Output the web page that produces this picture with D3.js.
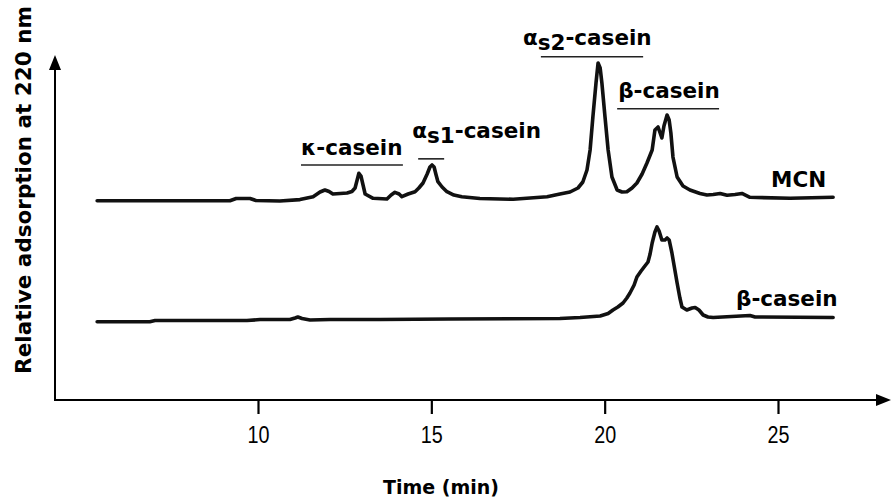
<!DOCTYPE html>
<html>
<head>
<meta charset="utf-8">
<script src="https://cdn.jsdelivr.net/npm/d3@7"></script>
<style>
  body { margin: 0; background: #fff; }
  svg { display: block; }
</style>
</head>
<body>
<div id="chart"></div>
<script>
// retention time (min) and relative absorbance
const mcnTime = [5.36, 6.88, 9.19, 9.37, 9.77, 9.94, 10.63, 11.21, 11.59, 11.79, 11.93, 12.05, 12.16, 12.37,
  12.57, 12.71, 12.80, 12.86, 12.91, 12.97, 13.03, 13.09, 13.32, 13.72, 13.84, 13.95, 14.07, 14.15, 14.33,
  14.53, 14.64, 14.76, 14.88, 14.96, 15.02, 15.08, 15.13, 15.19, 15.31, 15.45, 15.65, 15.88, 16.40, 17.36,
  17.85, 18.34, 18.71, 19.00, 19.23, 19.37, 19.49, 19.58, 19.66, 19.75, 19.81, 19.87, 19.92, 20.01, 20.10,
  20.21, 20.36, 20.50, 20.64, 20.79, 20.93, 21.08, 21.22, 21.37, 21.45, 21.54, 21.65, 21.71, 21.80, 21.86,
  21.91, 21.97, 22.09, 22.26, 22.46, 22.75, 22.95, 23.13, 23.33, 23.53, 23.76, 23.96, 24.19, 25.35, 26.59];
const mcnSignal = [57.77, 57.77, 57.77, 58.41, 58.41, 57.83, 57.68, 58.09, 58.93, 60.29, 60.87, 60.44, 59.71, 59.86,
  60.00, 60.44, 61.45, 63.77, 65.71, 64.93, 62.32, 59.71, 58.46, 58.26, 59.42, 60.20, 59.71, 58.93, 59.71,
  60.38, 61.45, 62.90, 65.51, 67.54, 68.12, 67.54, 65.51, 63.28, 61.74, 60.38, 59.42, 58.93, 58.41, 58.18,
  58.55, 58.93, 59.71, 60.29, 61.45, 63.19, 66.67, 72.46, 82.03, 91.88, 97.68, 96.23, 91.88, 82.03, 72.46,
  64.64, 60.87, 60.29, 60.38, 61.45, 62.90, 65.51, 68.70, 72.46, 78.26, 79.13, 75.94, 79.42, 82.61, 81.16,
  77.39, 70.43, 64.64, 62.03, 60.87, 59.86, 59.42, 59.57, 59.86, 59.33, 59.57, 59.86, 58.75, 58.46, 58.75];

const betaTime = [5.36, 6.88, 7.03, 9.68, 10.06, 10.92, 11.07, 11.15, 11.27, 11.50, 12.08, 13.52, 15.54, 18.71,
  19.29, 19.87, 20.10, 20.24, 20.38, 20.53, 20.64, 20.73, 20.85, 20.93, 21.05, 21.16, 21.25, 21.31, 21.37,
  21.45, 21.51, 21.57, 21.65, 21.74, 21.80, 21.86, 21.94, 22.00, 22.09, 22.17, 22.23, 22.37, 22.52, 22.61,
  22.72, 22.84, 22.98, 23.13, 24.19, 24.34, 26.59];
const betaSignal = [22.70, 22.70, 23.04, 23.04, 23.33, 23.33, 23.77, 24.06, 23.62, 23.19, 23.33, 23.33, 23.48, 23.62,
  23.91, 24.35, 25.07, 26.09, 26.96, 28.12, 29.57, 31.01, 33.33, 35.65, 37.39, 38.84, 40.00, 42.32, 45.51,
  48.70, 50.15, 48.99, 46.38, 46.38, 46.96, 46.38, 42.61, 39.13, 33.91, 29.57, 26.96, 26.09, 26.67, 26.81,
  26.09, 24.64, 24.06, 23.91, 24.49, 24.06, 23.91];

const xTicks = [10, 15, 20, 25];

// peak groups marked with a bar above the MCN trace
const groupNames = ["κ-casein", "αs1-casein", "αs2-casein", "β-casein"];
const groupStart = [11.24, 14.62, 18.16, 20.36];
const groupEnd = [14.18, 15.37, 21.11, 23.30];
const groupLevel = [68.1, 69.9, 99.5, 84.4];

const width = 891, height = 499;

const svg = d3.select("#chart")
  .append("svg")
  .attr("width", width)
  .attr("height", height);

const x = d3.scaleLinear().domain([10, 25]).range([258, 778]);
const y = d3.scaleLinear().domain([0, 100]).range([400, 55]);

const x0 = 55, y0 = 400;

// axes with arrow heads
svg.append("line")
  .attr("x1", x0).attr("y1", y0)
  .attr("x2", width - 10).attr("y2", y0)
  .attr("stroke", "#000").attr("stroke-width", 2);
svg.append("path")
  .attr("d", `M${width},${y0} L${width - 15},${y0 - 6} L${width - 15},${y0 + 6} Z`)
  .attr("fill", "#000");

svg.append("line")
  .attr("x1", x0).attr("y1", y0 + 1)
  .attr("x2", x0).attr("y2", y(100) + 10)
  .attr("stroke", "#000").attr("stroke-width", 2);
svg.append("path")
  .attr("d", `M${x0},${y(100)} L${x0 - 6},${y(100) + 15} L${x0 + 6},${y(100) + 15} Z`)
  .attr("fill", "#000");

const xAxis = svg.append("g")
  .attr("transform", `translate(0, ${y0})`)
  .call(d3.axisBottom(x).tickValues(xTicks).tickSize(14).tickPadding(13));
xAxis.select(".domain").remove();
xAxis.selectAll(".tick line").attr("stroke", "#000").attr("stroke-width", 2.2);
xAxis.selectAll(".tick text")
  .attr("fill", "#000")
  .attr("textLength", 22)
  .attr("lengthAdjust", "spacingAndGlyphs")
  .style("font-family", "'Liberation Sans', Arial, sans-serif")
  .style("font-size", "23px");

svg.append("text")
  .attr("x", 441)
  .attr("y", 494)
  .attr("text-anchor", "middle")
  .style("font-family", "'DejaVu Sans', sans-serif")
  .style("font-weight", "bold")
  .style("font-size", "19px")
  .text("Time (min)");

svg.append("text")
  .attr("transform", "translate(31, 190) rotate(-90)")
  .attr("text-anchor", "middle")
  .style("font-family", "'DejaVu Sans', sans-serif")
  .style("font-weight", "bold")
  .style("font-size", "21.5px")
  .text("Relative adsorption at 220 nm");

// traces
const line = d3.line()
  .x(d => x(d[0]))
  .y(d => y(d[1]));

const mcn = mcnTime.map((t, i) => [t, mcnSignal[i]]);
const beta = betaTime.map((t, i) => [t, betaSignal[i]]);

svg.selectAll(".trace")
  .data([mcn, beta])
  .enter()
  .append("path")
  .attr("class", "trace")
  .attr("d", line)
  .attr("fill", "none")
  .attr("stroke", "#111")
  .attr("stroke-width", 3.6)
  .attr("stroke-linejoin", "round")
  .attr("stroke-linecap", "round");

// group bars and their labels
const labelFont = g => g
  .style("font-family", "'DejaVu Sans', sans-serif")
  .style("font-weight", "bold")
  .style("font-size", "21.5px")
  .attr("fill", "#000");

svg.selectAll(".group-bar")
  .data(groupNames)
  .enter()
  .append("line")
  .attr("class", "group-bar")
  .attr("x1", (d, i) => x(groupStart[i]))
  .attr("x2", (d, i) => x(groupEnd[i]))
  .attr("y1", (d, i) => y(groupLevel[i]))
  .attr("y2", (d, i) => y(groupLevel[i]))
  .attr("stroke", "#222")
  .attr("stroke-width", 1.6);

// label offset from the bar start: [dx, dy]
const labelOffset = [[0, -10], [-6, -21], [-18, -12], [1, -11]];

svg.selectAll(".group-label")
  .data(groupNames)
  .enter()
  .append("text")
  .attr("class", "group-label")
  .attr("x", (d, i) => x(groupStart[i]) + labelOffset[i][0])
  .attr("y", (d, i) => y(groupLevel[i]) + labelOffset[i][1])
  .call(labelFont)
  .each(function (d) {
    const t = d3.select(this);
    if (d.startsWith("αs")) {
      t.append("tspan").text("α");
      t.append("tspan").attr("dy", 5).text("s" + d.charAt(2));
      t.append("tspan").attr("dy", -5).text(d.slice(3));
    } else {
      t.text(d);
    }
  });

svg.append("text")
  .attr("x", 771)
  .attr("y", 187)
  .call(labelFont)
  .text("MCN");

svg.append("text")
  .attr("x", 736)
  .attr("y", 306)
  .call(labelFont)
  .text("β-casein");
</script>
</body>
</html>
